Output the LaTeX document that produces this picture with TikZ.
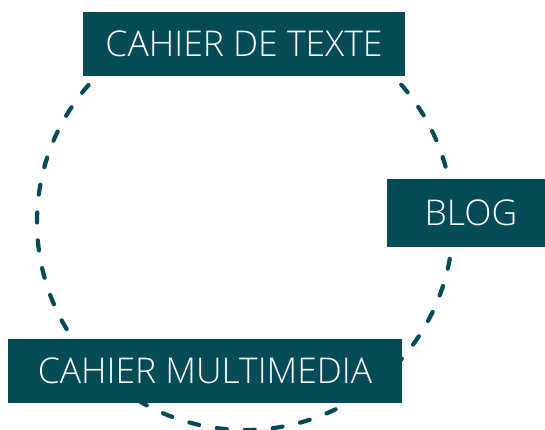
\documentclass[tikz,border=0pt]{standalone}
\usepackage{fontspec}
\setmainfont{Open Sans Light}
\definecolor{petrol}{RGB}{3,75,86}

\begin{document}
\begin{tikzpicture}[
    x=1pt, y=-1pt,
    every node/.style={rectangle, fill=petrol, text=white, inner sep=0pt,
                       minimum height=64pt, font=\fontsize{35.5}{40}\selectfont},
]
  \useasboundingbox (0,0) rectangle (545,430);
  \clip (0,0) rectangle (545,430);
  \draw [petrol, line width=4.2pt, line cap=round, dash pattern=on 10pt off 18pt]
        (245,222) circle [radius=208pt];
  \node [minimum width=322pt]                     (texte) at (244,44)  {CAHIER DE TEXTE};
  \node [minimum width=168pt, minimum height=67pt] (blog)  at (471,213) {BLOG};
  \node [minimum width=394pt]                     (multi) at (205,371) {CAHIER MULTIMEDIA};
\end{tikzpicture}
\end{document}
